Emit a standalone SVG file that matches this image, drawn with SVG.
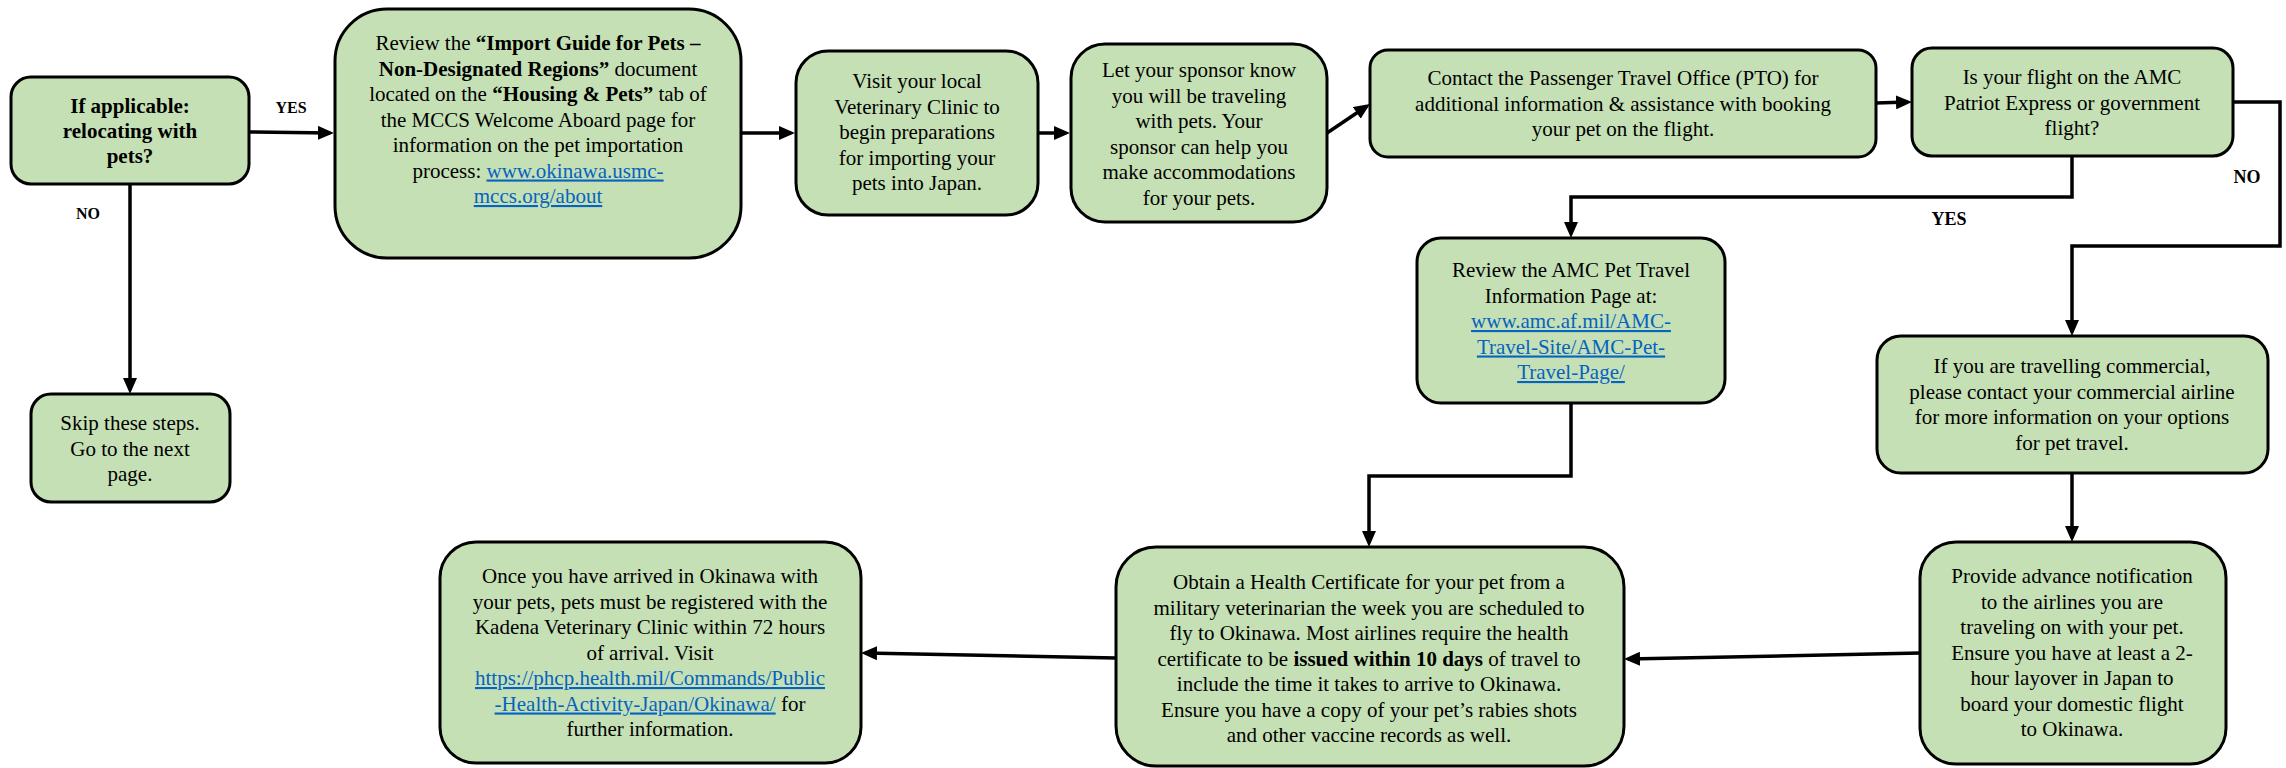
<svg xmlns="http://www.w3.org/2000/svg" width="2286" height="768" viewBox="0 0 2286 768">
<style>
.n{fill:#C5E0B4;stroke:#000;stroke-width:3}
.t{font-family:"Liberation Serif","Times New Roman",serif;font-size:21px;fill:#000;text-anchor:middle}
.b{font-weight:bold}
.l{fill:#0563C1;text-decoration:underline}
.c{fill:none;stroke:#000;stroke-width:3.5;marker-end:url(#ah)}
.c0{fill:none;stroke:#000;stroke-width:3.5}
.lb{font-family:"Liberation Serif","Times New Roman",serif;font-weight:bold;fill:#000;text-anchor:middle}
</style>
<defs>
<marker id="ah" markerWidth="16" markerHeight="14" refX="12" refY="7" orient="auto" markerUnits="userSpaceOnUse"><path d="M0,0 L16,7 L0,14 z" fill="#000"/></marker>
</defs>
<rect width="2286" height="768" fill="#fff"/>
<g id="connectors">
<path class="c" d="M249,132 L330,133"/>
<path class="c" d="M741,133 L791,133"/>
<path class="c" d="M1038,133 L1066,133"/>
<path class="c" d="M1327,133 L1366.7,106.2"/>
<path class="c" d="M1876,103 L1908,102"/>
<path class="c" d="M2072,156 V197 H1571 V234"/>
<path class="c" d="M2233,102 H2280 V246 H2072 V332"/>
<path class="c" d="M130,184 V390"/>
<path class="c" d="M1571,403 V476 H1369 V543"/>
<path class="c" d="M2072,473 V538"/>
<path class="c" d="M1920,653 L1628,659"/>
<path class="c" d="M1116,658 L865,653"/>
<text class="lb" x="291" y="113" font-size="16">YES</text>
<text class="lb" x="88" y="219" font-size="16">NO</text>
<text class="lb" x="1949" y="225" font-size="18">YES</text>
<text class="lb" x="2247" y="183" font-size="18">NO</text>
</g>
<g id="n1">
<rect class="n" x="11" y="77" width="238" height="107" rx="20"/>
<text class="t b"><tspan x="130" y="113">If applicable:</tspan><tspan x="130" y="138">relocating with</tspan><tspan x="130" y="163">pets?</tspan></text>
</g>
<g id="n2">
<rect class="n" x="335" y="9" width="406" height="249" rx="52"/>
<text class="t"><tspan x="538" y="50">Review the <tspan class="b">“Import Guide for Pets –</tspan></tspan><tspan x="538" y="75.5"><tspan class="b">Non-Designated Regions”</tspan> document</tspan><tspan x="538" y="101">located on the <tspan class="b">“Housing &amp; Pets”</tspan> tab of</tspan><tspan x="538" y="126.5">the MCCS Welcome Aboard page for</tspan><tspan x="538" y="152">information on the pet importation</tspan><tspan x="538" y="177.5">process: <tspan class="l">www.okinawa.usmc-</tspan></tspan><tspan x="538" y="203" class="l">mccs.org/about</tspan></text>
</g>
<g id="n3">
<rect class="n" x="796" y="51" width="242" height="164" rx="32"/>
<text class="t"><tspan x="917" y="88">Visit your local</tspan><tspan x="917" y="113.5">Veterinary Clinic to</tspan><tspan x="917" y="139">begin preparations</tspan><tspan x="917" y="164.5">for importing your</tspan><tspan x="917" y="190">pets into Japan.</tspan></text>
</g>
<g id="n4">
<rect class="n" x="1071" y="44" width="256" height="178" rx="34"/>
<text class="t"><tspan x="1199" y="77">Let your sponsor know</tspan><tspan x="1199" y="102.5">you will be traveling</tspan><tspan x="1199" y="128">with pets. Your</tspan><tspan x="1199" y="153.5">sponsor can help you</tspan><tspan x="1199" y="179">make accommodations</tspan><tspan x="1199" y="204.5">for your pets.</tspan></text>
</g>
<g id="n5">
<rect class="n" x="1370" y="50" width="506" height="107" rx="18"/>
<text class="t"><tspan x="1623" y="85">Contact the Passenger Travel Office (PTO) for</tspan><tspan x="1623" y="110.5">additional information &amp; assistance with booking</tspan><tspan x="1623" y="136">your pet on the flight.</tspan></text>
</g>
<g id="n6">
<rect class="n" x="1912" y="48" width="321" height="108" rx="20"/>
<text class="t"><tspan x="2072" y="84">Is your flight on the AMC</tspan><tspan x="2072" y="109.5">Patriot Express or government</tspan><tspan x="2072" y="135">flight?</tspan></text>
</g>
<g id="n7">
<rect class="n" x="1417" y="238" width="308" height="165" rx="24"/>
<text class="t"><tspan x="1571" y="277">Review the AMC Pet Travel</tspan><tspan x="1571" y="302.5">Information Page at:</tspan><tspan x="1571" y="328" class="l">www.amc.af.mil/AMC-</tspan><tspan x="1571" y="353.5" class="l">Travel-Site/AMC-Pet-</tspan><tspan x="1571" y="379" class="l">Travel-Page/</tspan></text>
</g>
<g id="n8">
<rect class="n" x="1877" y="336" width="391" height="137" rx="24"/>
<text class="t"><tspan x="2072" y="373">If you are travelling commercial,</tspan><tspan x="2072" y="398.5">please contact your commercial airline</tspan><tspan x="2072" y="424">for more information on your options</tspan><tspan x="2072" y="449.5">for pet travel.</tspan></text>
</g>
<g id="n9">
<rect class="n" x="1920" y="542" width="306" height="222" rx="36"/>
<text class="t"><tspan x="2072" y="583">Provide advance notification</tspan><tspan x="2072" y="608.5">to the airlines you are</tspan><tspan x="2072" y="634">traveling on with your pet.</tspan><tspan x="2072" y="659.5">Ensure you have at least a 2-</tspan><tspan x="2072" y="685">hour layover in Japan to</tspan><tspan x="2072" y="710.5">board your domestic flight</tspan><tspan x="2072" y="736">to Okinawa.</tspan></text>
</g>
<g id="n10">
<rect class="n" x="1116" y="547" width="508" height="219" rx="40"/>
<text class="t"><tspan x="1369" y="589">Obtain a Health Certificate for your pet from a</tspan><tspan x="1369" y="614.5">military veterinarian the week you are scheduled to</tspan><tspan x="1369" y="640">fly to Okinawa. Most airlines require the health</tspan><tspan x="1369" y="665.5">certificate to be <tspan class="b">issued within 10 days</tspan> of travel to</tspan><tspan x="1369" y="691">include the time it takes to arrive to Okinawa.</tspan><tspan x="1369" y="716.5">Ensure you have a copy of your pet’s rabies shots</tspan><tspan x="1369" y="742">and other vaccine records as well.</tspan></text>
</g>
<g id="n11">
<rect class="n" x="440" y="542" width="421" height="221" rx="36"/>
<text class="t"><tspan x="650" y="583">Once you have arrived in Okinawa with</tspan><tspan x="650" y="608.5">your pets, pets must be registered with the</tspan><tspan x="650" y="634">Kadena Veterinary Clinic within 72 hours</tspan><tspan x="650" y="659.5">of arrival. Visit</tspan><tspan x="650" y="685" class="l">https://phcp.health.mil/Commands/Public</tspan><tspan x="650" y="710.5"><tspan class="l">-Health-Activity-Japan/Okinawa/</tspan> for</tspan><tspan x="650" y="736">further information.</tspan></text>
</g>
<g id="n12">
<rect class="n" x="31" y="394" width="199" height="108" rx="20"/>
<text class="t"><tspan x="130" y="430">Skip these steps.</tspan><tspan x="130" y="455.5">Go to the next</tspan><tspan x="130" y="481">page.</tspan></text>
</g>
</svg>
